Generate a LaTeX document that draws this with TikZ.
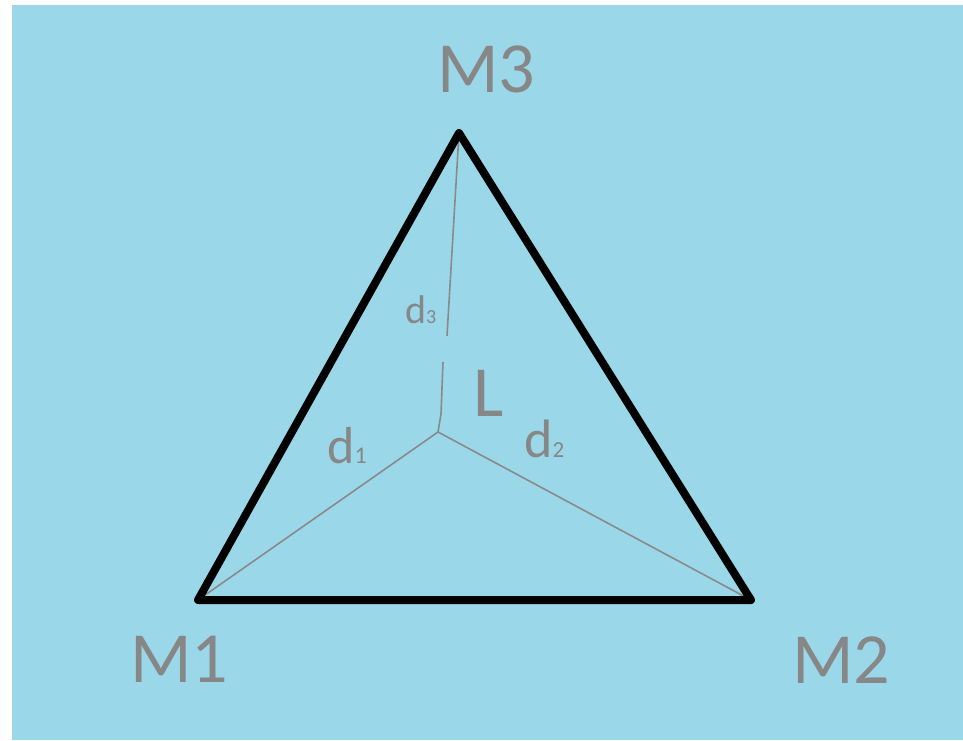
\documentclass[tikz,border=0pt]{standalone}
\usepackage{fontspec}
\setmainfont{Carlito}
\definecolor{bgblue}{HTML}{9AD8E9}
\definecolor{txtgray}{HTML}{878787}
\definecolor{lngray}{HTML}{8A8A8A}
\begin{document}
\begin{tikzpicture}[x=1pt,y=-1pt,
  big/.style={text=txtgray,inner sep=0pt,anchor=base west,font=\fontsize{72}{72}\selectfont},
  dlab/.style={text=txtgray,inner sep=0pt,anchor=base west},
  edge/.style={line width=8pt,line join=round,line cap=round,black},
  inner/.style={line width=1.6pt,lngray}]
\useasboundingbox (0,0) rectangle (963,740);
\fill[white] (0,0) rectangle (963,740);
\fill[bgblue] (12,5) rectangle (963,740);
\coordinate (M1) at (198,600);
\coordinate (M2) at (751,600);
\coordinate (M3) at (459,133);
\coordinate (L) at (438,432);
\coordinate (G1) at (447,336);
\coordinate (G2) at (443,362);
\coordinate (B1) at (441,414);
\draw[inner] (M3) -- (G1);
\draw[inner] (G2) -- (B1) -- (L);
\draw[inner] (L) -- (M1);
\draw[inner] (L) -- (M2);
\draw[edge] (M1) -- (M2) -- (M3) -- cycle;
\node[big] (t3) at (437,92) {M3};
\node[big] (t1) at (130,682) {M1};
\node[big] (t2) at (792,683) {M2};
\node[big] (tL) at (473,416) {L};
\node[dlab] (d1) at (327,463) {\fontsize{52}{52}\selectfont d\fontsize{24}{24}\selectfont 1};
\node[dlab] (d2) at (524,457) {\fontsize{54}{54}\selectfont d\fontsize{23}{23}\selectfont 2};
\node[dlab] (d3) at (405,323) {\fontsize{40}{40}\selectfont d\fontsize{20}{20}\selectfont 3};
\end{tikzpicture}
\end{document}
